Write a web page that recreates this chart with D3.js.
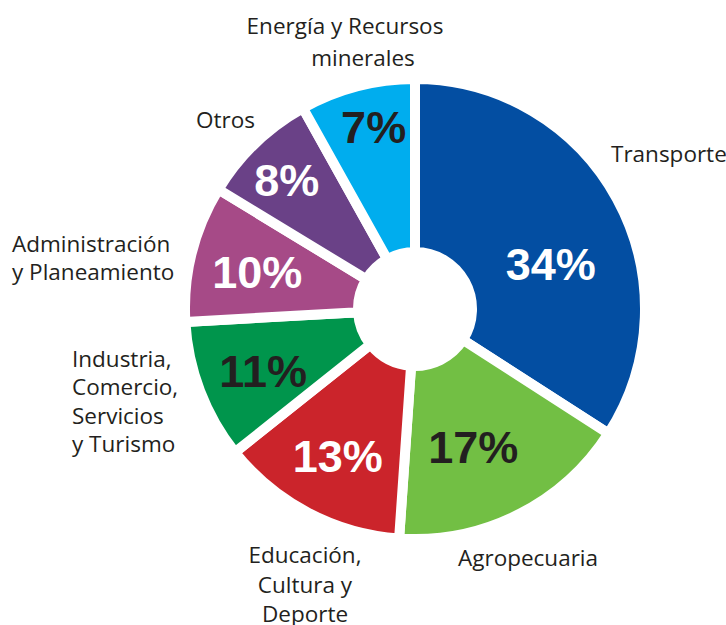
<!DOCTYPE html>
<html>
<head>
<meta charset="utf-8">
<script src="https://cdn.jsdelivr.net/npm/d3@7"></script>
<style>
  body { margin: 0; background: #fff; }
  text.cat { font-family: "Open Sans", sans-serif; font-size: 22.5px; fill: #231f20; }
  text.pct { font-family: "Liberation Sans", Arial, sans-serif; font-weight: bold; font-size: 45px; }
</style>
</head>
<body>
<div id="chart"></div>
<script>
const w = 726;
const h = 625;

// data, clockwise from 12 o'clock
const sectors = ["Transporte", "Agropecuaria", "Educación, Cultura y Deporte",
  "Industria, Comercio, Servicios y Turismo", "Administración y Planeamiento",
  "Otros", "Energía y Recursos minerales"];
// slice sizes as drawn (measured from the slice angles)
const shares = [34.1, 17.0, 13.2, 9.8, 9.6, 8.2, 8.1];
// printed percentages
const pctText = ["34%", "17%", "13%", "11%", "10%", "8%", "7%"];
const sliceColors = ["#034ea2", "#72bf44", "#cb242b", "#00954c", "#a64a87", "#6a4187", "#00adee"];
const pctColors = ["#fff", "#231f20", "#fff", "#231f20", "#fff", "#fff", "#231f20"];
const labelLines = [
  ["Transporte"],
  ["Agropecuaria"],
  ["Educación,", "Cultura y", "Deporte"],
  ["Industria,", "Comercio,", "Servicios", "y Turismo"],
  ["Administración", "y Planeamiento"],
  ["Otros"],
  ["Energía y Recursos", "minerales"]
];

// layout
const cx = 415, cy = 309;
const rOuter = 230, rInner = 57, gap = 10;
// [radius, angle nudge in degrees] for the percent labels
const pctPos = [[143, 10.3], [150, 3.8], [166, 0], [164, -1.3], [162, -0.8], [182, -0.9], [187, 1.8]];
// category label placement: x, first baseline, anchor, line height, per-line x shift
const catPos = [
  {x: 611, y: 162, anchor: "start", lh: 28},
  {x: 458, y: 566, anchor: "start", lh: 28},
  {x: 305, y: 563, anchor: "middle", lh: 29.5},
  {x: 72, y: 367, anchor: "start", lh: 28.4},
  {x: 12, y: 252, anchor: "start", lh: 28},
  {x: 196, y: 128, anchor: "start", lh: 28},
  {x: 345, y: 34, anchor: "middle", lh: 32, dx: [0, 18]}
];

let svg = d3.select("#chart").append("svg").attr("width", w).attr("height", h);
let g = svg.append("g").attr("transform", "translate(" + cx + "," + cy + ")");

let pie = d3.pie().sort(null).value((d) => d);
let arcs = pie(shares);
let arc = d3.arc().innerRadius(rInner).outerRadius(rOuter);

g.selectAll("path.slice").data(arcs)
  .enter().append("path")
  .attr("class", "slice")
  .attr("d", arc)
  .attr("fill", (d, i) => sliceColors[i])
  .attr("stroke", "#fff")
  .attr("stroke-width", gap)
  .attr("stroke-linejoin", "miter");

g.selectAll("text.pct").data(arcs)
  .enter().append("text")
  .attr("class", "pct")
  .attr("text-anchor", "middle")
  .attr("fill", (d, i) => pctColors[i])
  .attr("transform", function(d, i) {
    let a = (d.startAngle + d.endAngle) / 2 + pctPos[i][1] * Math.PI / 180;
    let r = pctPos[i][0];
    return "translate(" + (r * Math.sin(a)) + "," + (-r * Math.cos(a) + 16) + ")";
  })
  .text((d, i) => pctText[i]);

let cat = svg.selectAll("text.cat").data(sectors)
  .enter().append("text")
  .attr("class", "cat")
  .attr("text-anchor", (d, i) => catPos[i].anchor);

cat.each(function(d, i) {
  let p = catPos[i];
  d3.select(this).selectAll("tspan").data(labelLines[i])
    .enter().append("tspan")
    .attr("x", (t, j) => p.x + (p.dx ? p.dx[j] : 0))
    .attr("y", (t, j) => p.y + j * p.lh)
    .text((t) => t);
});
</script>
</body>
</html>
